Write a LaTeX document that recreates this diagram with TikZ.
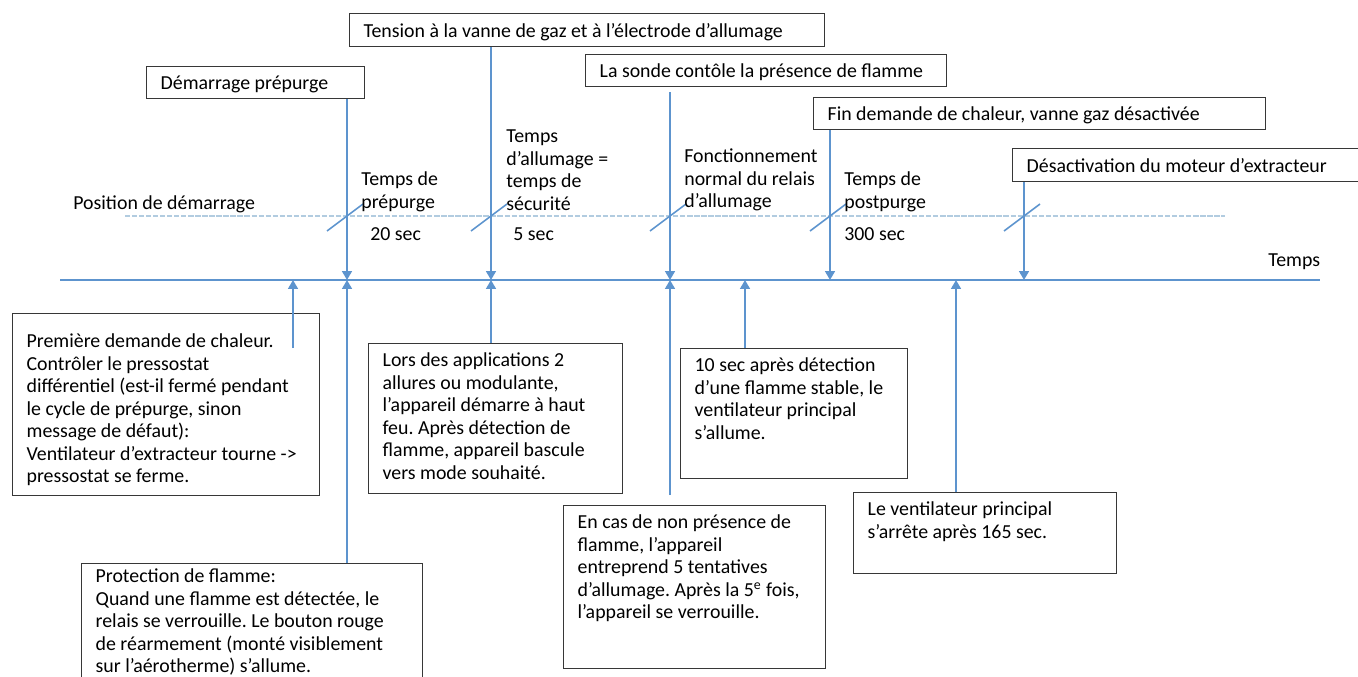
\documentclass[tikz,border=0pt]{standalone}
\usepackage{fontspec}
\setmainfont{Carlito}
\usetikzlibrary{arrows.meta}
\definecolor{lineblue}{RGB}{93,148,206}
\definecolor{dashblue}{RGB}{178,204,224}
\definecolor{boxgray}{RGB}{55,55,55}
\newlength{\px}\setlength{\px}{0.02cm}
\newcommand{\pbox}[3]{\parbox[t][\dimexpr#2\px-0.26cm\relax][t]{\dimexpr#1\px-0.56cm\relax}{\raggedright\vspace*{3\px}#3}}
\frenchspacing
\begin{document}
\begin{tikzpicture}[x=0.02cm,y=-0.02cm,
    every node/.style={font=\fontsize{11.3}{12.8}\selectfont},
    box/.style={draw=boxgray,line width=0.75pt,anchor=north west,inner xsep=0.28cm,inner ysep=0.13cm},
    lbl/.style={anchor=west,align=left,inner sep=0pt},
    flow/.style={draw=lineblue,line width=1.1pt,-{Triangle[width=5.5pt,length=5pt]}},
    axis/.style={draw=lineblue,line width=1.1pt},
    tick/.style={draw=lineblue,line width=0.9pt},
    startline/.style={draw=dashblue,line width=0.9pt,dash pattern=on 3pt off 1pt}]
    \clip (0,0) rectangle (1358,676);

    \coordinate (t0) at (60,280);
    \coordinate (tend) at (1320,280);
    \draw[axis] (t0) -- (tend);
    \node[lbl] (temps) at (1268,262) {Temps};

    \coordinate (s0) at (125,216);
    \coordinate (send) at (1225,216);
    \draw[startline] (s0) -- (send);
    \node[lbl] (pos) at (73,204) {Position de démarrage};

    \coordinate (d1) at (347,280);
    \coordinate (d2) at (491,280);
    \coordinate (d3) at (670,280);
    \coordinate (d4) at (830,280);
    \coordinate (d5) at (1024,280);
    \coordinate (u1) at (293,280);
    \coordinate (u5) at (745,280);
    \coordinate (u6) at (956,280);

    \foreach \x in {347,491,670,830,1024}
      \draw[tick] (\x-20,231) -- (\x+16,204);

    \node[box] (prep) at (146,66) {\pbox{218}{32}{Démarrage prépurge}};
    \node[box] (tension) at (349,13) {\pbox{475}{33}{Tension à la vanne de gaz et à l’électrode d’allumage}};
    \node[box] (sonde) at (585,54) {\pbox{361}{32}{La sonde contôle la présence de flamme}};
    \node[box] (fin) at (813,97) {\pbox{452}{32}{Fin demande de chaleur, vanne gaz désactivée}};
    \node[box] (desact) at (1012,148) {\pbox{360}{33}{Désactivation du moteur d’extracteur}};

    \node[lbl] (tprep) at (361,192) {Temps de\\prépurge};
    \node[lbl] (t20) at (370,234) {20 sec};
    \node[lbl] (tall) at (506,170) {Temps\\d’allumage =\\temps de\\sécurité};
    \node[lbl] (t5) at (513,234) {5 sec};
    \node[lbl] (fonct) at (684,180) {Fonctionnement\\normal du relais\\d’allumage};
    \node[lbl] (tpost) at (844,192) {Temps de\\postpurge};
    \node[lbl] (t300) at (844,234) {300 sec};

    \coordinate (s3) at (670,92);
    \draw[flow] (d1 |- prep.south) -- (d1);
    \draw[flow] (d2 |- tension.south) -- (d2);
    \draw[flow] (s3) -- (d3);
    \draw[flow] (d4 |- fin.south) -- (d4);
    \draw[flow] (d5 |- desact.south) -- (d5);

    \node[box] (demande) at (12,313) {\pbox{307}{182}{\vspace*{0.22cm}Première demande de chaleur.\\Contrôler le pressostat\\différentiel (est-il fermé pendant\\le cycle de prépurge, sinon\\message de défaut):\\Ventilateur d’extracteur tourne ->\\pressostat se ferme.}};
    \node[box] (protect) at (81,563) {\pbox{341}{150}{\vspace*{-4\px}Protection de flamme:\\Quand une flamme est détectée, le\\relais se verrouille. Le bouton rouge\\de réarmement (monté visiblement\\sur l’aérotherme) s’allume.}};
    \node[box] (allures) at (368,343) {\pbox{254}{150}{Lors des applications 2\\allures ou modulante,\\l’appareil démarre à haut\\feu. Après détection de\\flamme, appareil bascule\\vers mode souhaité.}};
    \node[box] (noflam) at (563,505) {\pbox{262}{163}{En cas de non présence de\\flamme, l’appareil\\entreprend 5 tentatives\\d’allumage. Après la 5\textsuperscript{e} fois,\\l’appareil se verrouille.}};
    \node[box] (stable) at (680,348) {\pbox{227}{130}{10 sec après détection\\d’une flamme stable, le\\ventilateur principal\\s’allume.}};
    \node[box] (arret) at (853,492) {\pbox{263}{81}{Le ventilateur principal\\s’arrête après 165 sec.}};

    \coordinate (b1) at (293,348);
    \coordinate (b4) at (670,495);
    \draw[flow] (b1) -- (u1);
    \draw[flow] (d1 |- protect.north) -- (d1);
    \draw[flow] (d2 |- allures.north) -- (d2);
    \draw[flow] (b4) -- (d3);
    \draw[flow] (u5 |- stable.north) -- (u5);
    \draw[flow] (u6 |- arret.north) -- (u6);
\end{tikzpicture}
\end{document}
